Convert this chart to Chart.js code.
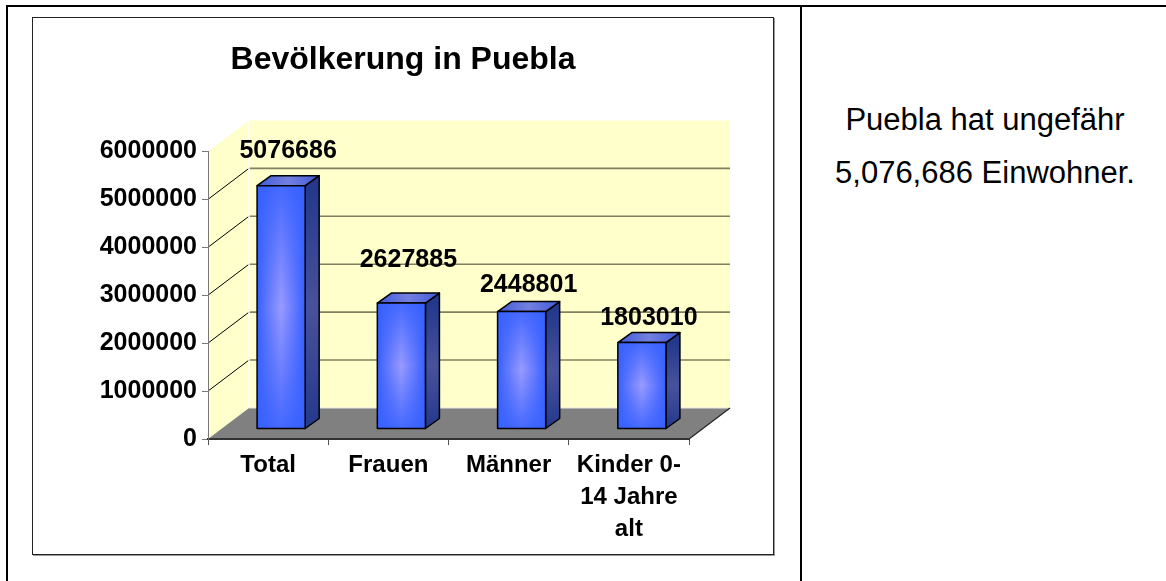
<!DOCTYPE html>
<html>
<head>
<meta charset="utf-8">
<title>Bevölkerung in Puebla</title>
<script src="https://cdn.jsdelivr.net/npm/chart.js@4"></script>
<style>
  html, body { margin: 0; padding: 0; background: #fff; overflow: hidden; }
  body { width: 1166px; height: 581px; position: relative; font-family: Arial, "Liberation Sans", sans-serif; }
  .frame { position: absolute; left: 6px; top: 5px; width: 1200px; height: 640px; border: 2px solid #000; }
  .divider { position: absolute; left: 800px; top: 5px; width: 2px; height: 640px; background: #000; }
  .box { position: absolute; left: 32px; top: 17px; width: 742px; height: 538px; border: 1px solid #222;
         box-sizing: border-box; box-shadow: 1px 1px 0 #999; background: #fff; }
  .box canvas { display: block; }
  .note { position: absolute; left: 802px; width: 366px; top: 93px; text-align: center;
          font-size: 31px; line-height: 53px; color: #000; }
</style>
</head>
<body>
<div class="frame"></div>
<div class="divider"></div>
<div class="box"><canvas id="popChart" width="740" height="536"></canvas></div>
<div class="note">Puebla hat ungefähr<br>5,076,686 Einwohner.</div>

<script>
// chart data
const categories = ['Total', 'Frauen', 'Männer', ['Kinder 0-', '14 Jahre', 'alt']];
const population = [5076686, 2627885, 2448801, 1803010];
const yTicks = [0, 1000000, 2000000, 3000000, 4000000, 5000000, 6000000];

// how far each value label sits above its value (px)
const labelLift = [38, 46, 30, 28];

// fake 3d: depth of the floor / back wall and where the bars sit in it
const DX = 41, DY = 31;
const BAR_X = 13, BAR_Y = 10;   // front face of the bars
const BAR_DX = 14, BAR_DY = 10; // bar depth

const FONT = 'Arial, "Liberation Sans", sans-serif';

function poly(ctx, pts, fill, stroke, lw) {
    ctx.beginPath();
    ctx.moveTo(pts[0][0], pts[0][1]);
    for (let i = 1; i < pts.length; i++) ctx.lineTo(pts[i][0], pts[i][1]);
    ctx.closePath();
    if (fill) { ctx.fillStyle = fill; ctx.fill(); }
    if (stroke) { ctx.strokeStyle = stroke; ctx.lineWidth = lw || 1; ctx.stroke(); }
}

function line(ctx, x0, y0, x1, y1, color, lw) {
    ctx.beginPath();
    ctx.moveTo(x0, y0);
    ctx.lineTo(x1, y1);
    ctx.strokeStyle = color;
    ctx.lineWidth = lw;
    ctx.stroke();
}

const box3d = {
    id: 'box3d',
    // walls, floor and back gridlines go under the axes
    beforeDraw(chart) {
        const ctx = chart.ctx;
        const a = chart.chartArea;
        const y = chart.scales.y;
        const L = a.left, R = a.right;
        const T = y.getPixelForValue(yTicks[yTicks.length - 1]);
        const B = y.getPixelForValue(0);
        ctx.save();
        poly(ctx, [[L, T], [L + DX, T - DY], [L + DX, B - DY], [L, B]], '#ffffcc');
        poly(ctx, [[L + DX, T - DY], [R + DX, T - DY], [R + DX, B - DY], [L + DX, B - DY]], '#ffffcc');
        poly(ctx, [[L, B], [R, B], [R + DX, B - DY], [L + DX, B - DY]], '#808080');

        yTicks.forEach(v => {
            if (v === 0 || v === yTicks[yTicks.length - 1]) return;
            const py = y.getPixelForValue(v);
            line(ctx, L, py, L + DX, py - DY, '#000', 1);
            line(ctx, L + DX, py - DY, R + DX, py - DY, '#808060', 1.6);
        });
        line(ctx, L + DX, T - DY, L + DX, B - DY, '#fff', 1.5);
        line(ctx, L + DX, B - DY, R + DX, B - DY, '#e8e8e8', 1);
        line(ctx, R, B, R + DX, B - DY, '#222', 1.2);
        ctx.restore();
    },
    afterDatasetsDraw(chart) {
        const ctx = chart.ctx;
        const y = chart.scales.y;
        const meta = chart.getDatasetMeta(0);
        ctx.save();
        ctx.lineJoin = 'round';
        meta.data.forEach((el, i) => {
            const w = el.width;
            const x0 = el.x - w / 2 + BAR_X, x1 = el.x + w / 2 + BAR_X;
            const y0 = el.y - BAR_Y, y1 = el.base - BAR_Y;

            // side
            let g = ctx.createLinearGradient(0, y0, 0, y1);
            g.addColorStop(0, '#24388c');
            g.addColorStop(0.5, '#48529c');
            g.addColorStop(1, '#24388c');
            poly(ctx, [[x1, y0], [x1 + BAR_DX, y0 - BAR_DY], [x1 + BAR_DX, y1 - BAR_DY], [x1, y1]], g, '#000', 1.5);

            // top
            g = ctx.createLinearGradient(x0, 0, x1 + BAR_DX, 0);
            g.addColorStop(0, '#3f5ad8');
            g.addColorStop(0.5, '#7480e0');
            g.addColorStop(1, '#3f5ad8');
            poly(ctx, [[x0, y0], [x0 + BAR_DX, y0 - BAR_DY], [x1 + BAR_DX, y0 - BAR_DY], [x1, y0]], g, '#000', 1.5);

            // front, lighter in the middle
            g = ctx.createLinearGradient(x0, 0, x1, 0);
            g.addColorStop(0, '#3660ff');
            g.addColorStop(0.5, '#9a9aff');
            g.addColorStop(1, '#3660ff');
            poly(ctx, [[x0, y0], [x1, y0], [x1, y1], [x0, y1]], g);
            g = ctx.createLinearGradient(0, y0, 0, y1);
            g.addColorStop(0, 'rgba(54,96,255,0.85)');
            g.addColorStop(0.5, 'rgba(54,96,255,0)');
            g.addColorStop(1, 'rgba(54,96,255,0.85)');
            poly(ctx, [[x0, y0], [x1, y0], [x1, y1], [x0, y1]], g, '#000', 1.5);
        });

        // value labels
        ctx.fillStyle = '#000';
        ctx.font = 'bold 25px ' + FONT;
        ctx.textAlign = 'center';
        ctx.textBaseline = 'alphabetic';
        meta.data.forEach((el, i) => {
            const v = population[i];
            ctx.fillText(String(v), el.x + BAR_X + 7, y.getPixelForValue(v) - labelLift[i]);
        });
        ctx.restore();
    }
};

const ctx = document.getElementById('popChart').getContext('2d');
new Chart(ctx, {
    type: 'bar',
    data: {
        labels: categories,
        datasets: [{
            label: 'Bevölkerung',
            data: population,
            backgroundColor: 'rgba(0,0,0,0)',
            borderWidth: 0,
            barPercentage: 0.4,
            categoryPercentage: 1
        }]
    },
    options: {
        responsive: false,
        animation: false,
        layout: { padding: 0 },
        plugins: {
            legend: { display: false },
            tooltip: { enabled: false },
            title: {
                display: true,
                text: 'Bevölkerung in Puebla',
                color: '#000',
                font: { family: FONT, size: 32, weight: 'bold' },
                padding: { top: 23, bottom: 72 }
            }
        },
        scales: {
            x: {
                afterFit: s => { s.height = 115; },
                grid: { drawOnChartArea: false, tickLength: 6, color: '#555', offset: true },
                border: { color: '#333', width: 2 },
                ticks: {
                    color: '#000',
                    padding: 5,
                    maxRotation: 0,
                    autoSkip: false,
                    font: { family: FONT, size: 24, weight: 'bold', lineHeight: 1.32 }
                }
            },
            y: {
                min: 0,
                max: 6000000,
                afterFit: s => { s.width = 175; },
                afterBuildTicks: s => { s.ticks = yTicks.map(v => ({ value: v })); },
                grid: { drawOnChartArea: false, tickLength: 6, color: '#777' },
                border: { color: '#777', width: 1 },
                ticks: {
                    color: '#000',
                    padding: 5,
                    font: { family: FONT, size: 25, weight: 'bold' },
                    callback: v => String(v)
                }
            },
            // empty right-hand axis: keeps the plot clear of the right edge
            // while the title stays centred on the whole box
            yRight: {
                position: 'right',
                min: 0,
                max: 6000000,
                afterFit: s => { s.width = 84; },
                grid: { display: false },
                border: { display: false },
                ticks: { display: false }
            }
        }
    },
    plugins: [box3d]
});
</script>
</body>
</html>
